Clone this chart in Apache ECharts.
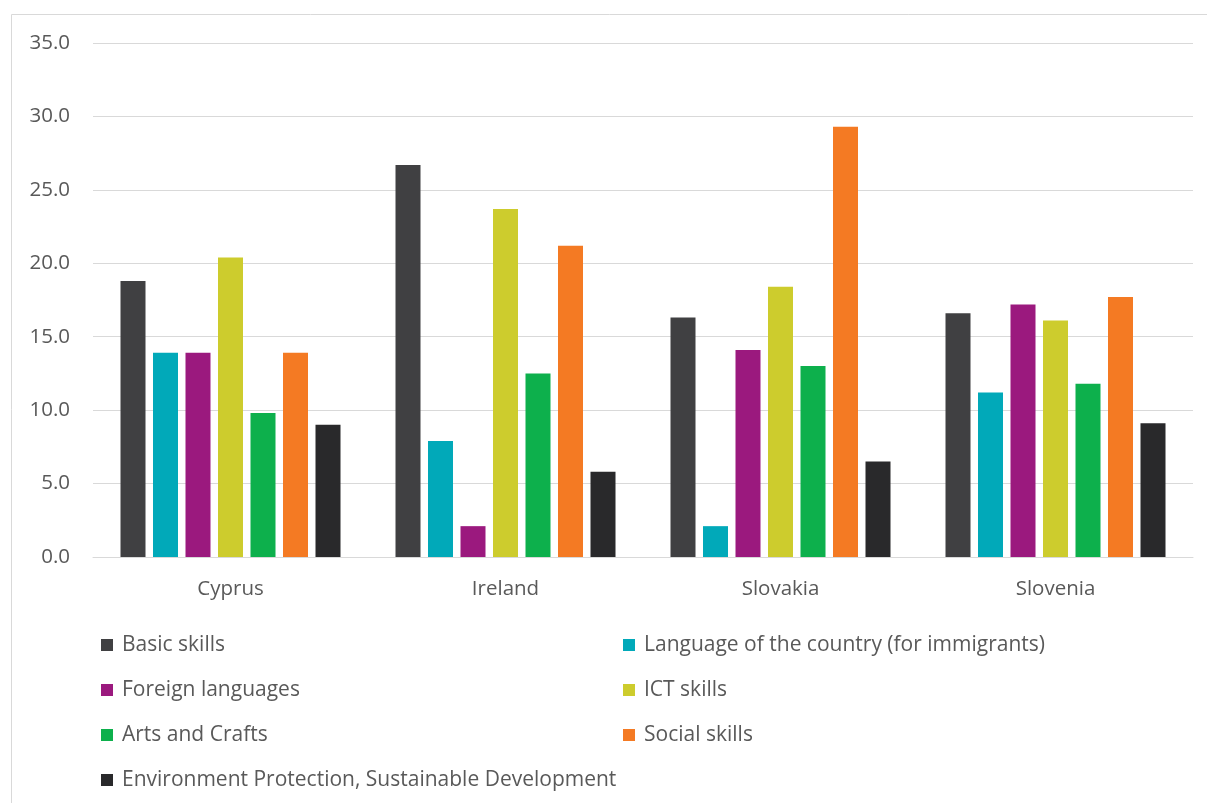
<!DOCTYPE html>
<html><head><meta charset="utf-8">
<script src="https://cdn.jsdelivr.net/npm/echarts@6/dist/echarts.min.js"></script>
<style>html,body{margin:0;padding:0;background:#fff;}#c{width:1207px;height:803px;}</style>
</head><body><div id="c"></div>
<script>
const categories = ['Cyprus', 'Ireland', 'Slovakia', 'Slovenia'];
const seriesNames = ['Basic skills', 'Language of the country (for immigrants)', 'Foreign languages', 'ICT skills', 'Arts and Crafts', 'Social skills', 'Environment Protection, Sustainable Development'];
const basicSkills = [18.8, 26.7, 16.3, 16.6];
const languageCountry = [13.9, 7.9, 2.1, 11.2];
const foreignLanguages = [13.9, 2.1, 14.1, 17.2];
const ictSkills = [20.4, 23.7, 18.4, 16.1];
const artsCrafts = [9.8, 12.5, 13.0, 11.8];
const socialSkills = [13.9, 21.2, 29.3, 17.7];
const envProtection = [9.0, 5.8, 6.5, 9.1];
const colors = ['#404042', '#01a9b9', '#9b197e', '#cdcc2d', '#0db04c', '#f47a23', '#29292b'];
const allValues = [basicSkills, languageCountry, foreignLanguages, ictSkills, artsCrafts, socialSkills, envProtection];

const font = 'Open Sans';
const fs = 20.5;
const lfs = 21;
const chart = echarts.init(document.getElementById('c'), null, {renderer: 'canvas'});
const legendText = {color: '#595959', fontSize: lfs, fontFamily: font, lineHeight: 22, padding: [0, 0, 0, 4]};
chart.setOption({
  animation: false,
  color: colors,
  graphic: [{type: 'rect', shape: {x: 11.5, y: 14.5, width: 1300, height: 900}, style: {fill: 'none', stroke: '#d9d9d9', lineWidth: 1}, silent: true}],
  grid: {left: 93, right: 14, top: 43, bottom: 246, containLabel: false},
  legend: [
    {orient: 'vertical', left: 101, top: 634, padding: 0, itemWidth: 12, itemHeight: 12, icon: 'rect', itemGap: 23,
     data: [seriesNames[0], seriesNames[2], seriesNames[4], seriesNames[6]], textStyle: legendText, selectedMode: false},
    {orient: 'vertical', left: 623, top: 634, padding: 0, itemWidth: 12, itemHeight: 12, icon: 'rect', itemGap: 23,
     data: [seriesNames[1], seriesNames[3], seriesNames[5]], textStyle: legendText, selectedMode: false}
  ],
  xAxis: {
    type: 'category', data: categories,
    axisLine: {lineStyle: {color: '#d9d9d9', width: 1}},
    axisTick: {show: false},
    axisLabel: {color: '#595959', fontSize: fs, fontFamily: font, margin: 22}
  },
  yAxis: {
    type: 'value', min: 0, max: 35, interval: 5,
    axisLine: {show: false}, axisTick: {show: false},
    splitLine: {lineStyle: {color: '#d9d9d9', width: 1}},
    axisLabel: {color: '#595959', fontSize: fs, fontFamily: font, margin: 23, formatter: v => v.toFixed(1)}
  },
  series: seriesNames.map((n, i) => ({
    name: n, type: 'bar', data: allValues[i],
    barGap: '30%', barCategoryGap: '20%',
    itemStyle: {color: colors[i]}
  }))
});
</script></body></html>
